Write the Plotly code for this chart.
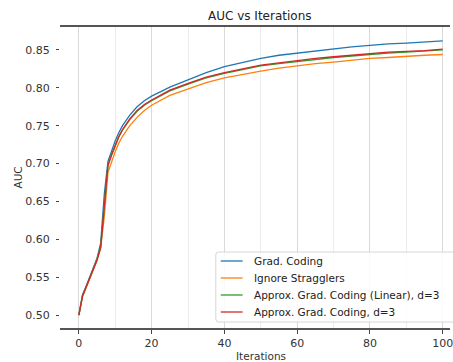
import plotly.graph_objects as go

iters = [0, 1, 2, 3, 4, 5, 6, 7, 8, 9, 10, 11, 12, 14, 16, 18, 20, 25, 30, 35, 40,
         45, 50, 55, 60, 65, 70, 75, 80, 85, 90, 95, 100]

grad_coding = [0.500, 0.527, 0.538, 0.550, 0.562, 0.575, 0.595, 0.660, 0.703, 0.717,
               0.730, 0.741, 0.750, 0.764, 0.775, 0.783, 0.789, 0.801, 0.811, 0.820,
               0.828, 0.834, 0.839, 0.843, 0.846, 0.849, 0.851, 0.854, 0.856, 0.858,
               0.859, 0.861, 0.862]

ignore_stragglers = [0.500, 0.524, 0.536, 0.548, 0.560, 0.572, 0.588, 0.630, 0.688, 0.703,
                     0.716, 0.727, 0.736, 0.750, 0.761, 0.770, 0.777, 0.790, 0.799, 0.807,
                     0.813, 0.818, 0.822, 0.826, 0.829, 0.832, 0.834, 0.837, 0.839, 0.840,
                     0.842, 0.843, 0.844]

approx_linear = [0.500, 0.525, 0.537, 0.549, 0.561, 0.573, 0.590, 0.640, 0.697, 0.711,
                 0.724, 0.735, 0.744, 0.758, 0.769, 0.777, 0.783, 0.796, 0.805, 0.813,
                 0.819, 0.824, 0.829, 0.832, 0.835, 0.838, 0.840, 0.842, 0.844, 0.846,
                 0.847, 0.848, 0.850]

approx_d3 = [0.500, 0.525, 0.537, 0.549, 0.561, 0.573, 0.590, 0.640, 0.698, 0.712,
             0.725, 0.736, 0.745, 0.759, 0.770, 0.778, 0.784, 0.797, 0.806, 0.814,
             0.820, 0.825, 0.830, 0.833, 0.836, 0.839, 0.841, 0.843, 0.845, 0.847,
             0.848, 0.849, 0.851]

x_ticks = [0, 20, 40, 60, 80, 100]
y_ticks = [0.50, 0.55, 0.60, 0.65, 0.70, 0.75, 0.80, 0.85]
y_tick_labels = ["0.50", "0.55", "0.60", "0.65", "0.70", "0.75", "0.80", "0.85"]

series = [
    ("Grad. Coding", grad_coding, "#1f77b4"),
    ("Ignore Stragglers", ignore_stragglers, "#ff7f0e"),
    ("Approx. Grad. Coding (Linear), d=3", approx_linear, "#2ca02c"),
    ("Approx. Grad. Coding, d=3", approx_d3, "#d62728"),
]

W, H = 453, 362
L, T, B = 60, 27, 34
pw, ph = W - L, H - T - B


def px(xp):
    return (xp - L) / pw


def py(yp):
    return (H - B - yp) / ph


fig = go.Figure()
for name, vals, col in series:
    fig.add_trace(go.Scatter(x=iters, y=vals, mode="lines", name=name,
                             line=dict(color=col, width=1.3), showlegend=False))

# legend box (drawn manually to match compact spacing)
shapes = []
bx0, bx1, by0, by1, r = 217, 480, 252, 322, 3
path = (f"M {px(bx0 + r)},{py(by0)} L {px(bx1)},{py(by0)} L {px(bx1)},{py(by1)} "
        f"L {px(bx0 + r)},{py(by1)} Q {px(bx0)},{py(by1)} {px(bx0)},{py(by1 - r)} "
        f"L {px(bx0)},{py(by0 + r)} Q {px(bx0)},{py(by0)} {px(bx0 + r)},{py(by0)} Z")
shapes.append(dict(type="path", xref="paper", yref="paper", path=path,
                   fillcolor="rgba(255,255,255,0.85)", line=dict(color="#d6d6d6", width=1),
                   layer="above"))
annotations = []
row_y = [261, 278, 295, 312]
for (name, _, col), ry in zip(series, row_y):
    shapes.append(dict(type="line", xref="paper", yref="paper",
                       x0=px(222), x1=px(244), y0=py(ry), y1=py(ry),
                       line=dict(color=col, width=1.3), layer="above"))
    annotations.append(dict(text=name, xref="paper", yref="paper", x=px(253), y=py(ry),
                            xanchor="left", yanchor="middle", showarrow=False,
                            font=dict(size=10.5, color="#222")))

annotations += [
    dict(text="AUC vs Iterations", xref="paper", yref="paper", x=px(262), y=1,
         yshift=11, xanchor="center", yanchor="middle", showarrow=False,
         font=dict(size=12, color="#222")),
    dict(text="Iterations", xref="paper", yref="paper", x=px(263), y=0,
         yshift=-20, xanchor="center", yanchor="top", showarrow=False,
         font=dict(size=10.5, color="#333")),
    dict(text="AUC", xref="paper", yref="paper", x=0, xshift=-43, y=0.5,
         textangle=-90, xanchor="center", yanchor="middle", showarrow=False,
         font=dict(size=10.5, color="#333")),
]

fig.update_layout(
    width=W, height=H,
    margin=dict(l=L, r=0, t=T, b=B),
    paper_bgcolor="white", plot_bgcolor="white",
    font=dict(family="DejaVu Sans", size=11, color="#333"),
    showlegend=False,
    xaxis=dict(range=[-5.18, 102.0], tickvals=x_ticks,
               showgrid=True, gridcolor="#d9d9d9", gridwidth=1,
               minor=dict(dtick=10, tick0=0, showgrid=True, gridcolor="#ececec", gridwidth=1),
               showline=True, linecolor="#555", linewidth=1.5, mirror=True,
               ticks="outside", ticklen=4, tickcolor="#444",
               ticklabeloverflow="allow",
               zeroline=False, tickfont=dict(size=11, color="#333")),
    yaxis=dict(range=[0.4829, 0.8803], tickvals=y_ticks, ticktext=y_tick_labels,
               showgrid=False, showline=False, zeroline=False,
               ticks="outside", ticklen=3, tickcolor="#444", ticklabelstandoff=4,
               tickfont=dict(size=11, color="#333")),
    shapes=shapes,
    annotations=annotations,
)

fig.write_html("out.html")
